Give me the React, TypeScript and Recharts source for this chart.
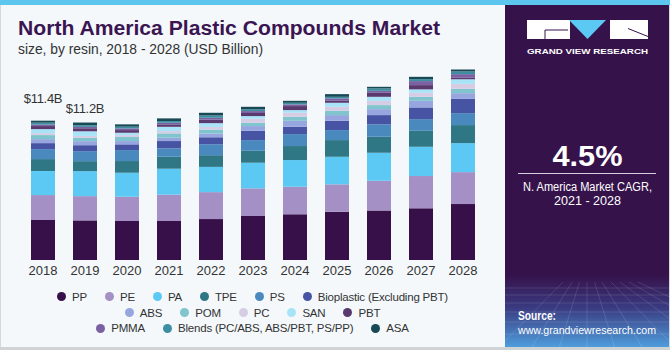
import React from 'react';
import { BarChart, Bar, XAxis, YAxis, LabelList, Legend } from 'recharts';

const years = ['2018', '2019', '2020', '2021', '2022', '2023', '2024', '2025', '2026', '2027', '2028'];

const PP = [3.28, 3.25, 3.2, 3.2, 3.36, 3.61, 3.75, 3.96, 4.07, 4.24, 4.59];
const PE = [2.05, 1.99, 1.99, 2.16, 2.21, 2.27, 2.26, 2.25, 2.43, 2.65, 2.62];
const PA = [1.97, 2.05, 1.97, 2.13, 2.07, 2.1, 2.19, 2.26, 2.3, 2.4, 2.38];
const TPE = [0.98, 0.82, 0.96, 0.98, 0.96, 0.98, 1.15, 1.37, 1.31, 1.31, 1.48];
const PS = [0.82, 0.82, 0.9, 0.69, 0.9, 0.88, 0.98, 0.82, 1.02, 0.96, 0.98];
const BIO = [0.49, 0.49, 0.47, 0.6, 0.57, 0.76, 0.6, 0.76, 0.76, 0.96, 1.17];
const ABS = [0.33, 0.33, 0.27, 0.27, 0.3, 0.39, 0.49, 0.47, 0.49, 0.54, 0.47];
const POM = [0.33, 0.27, 0.33, 0.36, 0.33, 0.27, 0.33, 0.35, 0.33, 0.33, 0.35];
const PC = [0.16, 0.16, 0.16, 0.19, 0.22, 0.33, 0.33, 0.33, 0.35, 0.33, 0.41];
const SAN = [0.33, 0.38, 0.19, 0.35, 0.31, 0.22, 0.22, 0.33, 0.33, 0.28, 0.38];
const PBT = [0.25, 0.25, 0.22, 0.2, 0.28, 0.25, 0.33, 0.16, 0.33, 0.35, 0.12];
const PMMA = [0.12, 0.11, 0.14, 0.13, 0.16, 0.16, 0.14, 0.2, 0.16, 0.33, 0.3];
const BLENDS = [0.16, 0.14, 0.14, 0.14, 0.19, 0.14, 0.13, 0.13, 0.2, 0.16, 0.22];
const ASA = [0.16, 0.22, 0.19, 0.22, 0.22, 0.21, 0.16, 0.22, 0.13, 0.19, 0.16];

const totalLabels = ['$11.4B', '$11.2B', '', '', '', '', '', '', '', '', ''];

const seriesKeys = ['PP', 'PE', 'PA', 'TPE', 'PS', 'BIO', 'ABS', 'POM', 'PC', 'SAN', 'PBT', 'PMMA', 'BLENDS', 'ASA'];
const seriesValues = [PP, PE, PA, TPE, PS, BIO, ABS, POM, PC, SAN, PBT, PMMA, BLENDS, ASA];
const seriesNames = [
  'PP', 'PE', 'PA', 'TPE', 'PS', 'Bioplastic (Excluding PBT)',
  'ABS', 'POM', 'PC', 'SAN', 'PBT',
  'PMMA', 'Blends (PC/ABS, ABS/PBT, PS/PP)', 'ASA',
];
const seriesColors = [
  '#37104A', '#A490C4', '#5CC9F5', '#2F7785', '#4A89BE', '#4753A3',
  '#97A6DE', '#80C5CD', '#D6CDE5', '#A9E3F7', '#5A3A6E',
  '#7B61A2', '#3D8EA1', '#184A55',
];
const legendRows = [[0, 1, 2, 3, 4, 5], [6, 7, 8, 9, 10], [11, 12, 13]];

const data = years.map((year, i) => {
  const row: Record<string, string | number> = { year, total: totalLabels[i] };
  seriesKeys.forEach((k, s) => {
    row[k] = seriesValues[s][i];
  });
  return row;
});

const FONT = '"Liberation Sans", Arial, sans-serif';
const labelLift = [18, 10];

const renderTotal = (props: any) => {
  const { value, index } = props;
  if (!value) return null;
  const vb = props.viewBox || props;
  const x = vb.x + vb.width / 2;
  const y = vb.y - (labelLift[index] ?? 10);
  return (
    <text x={x} y={y} textAnchor="middle" fontSize={13} fill="#333" fontFamily={FONT} letterSpacing={-0.3}>
      {value}
    </text>
  );
};

const renderLegend = () => (
  <div style={{ fontFamily: FONT, fontSize: 11.5, color: '#333', letterSpacing: -0.2 }}>
    {legendRows.map((row, r) => (
      <div key={r} style={{ display: 'flex', justifyContent: 'center', alignItems: 'center', height: 15.8 }}>
        {row.map((s, j) => (
          <span key={s} style={{ display: 'flex', alignItems: 'center', marginLeft: j === 0 ? 0 : 18, whiteSpace: 'nowrap' }}>
            <span style={{ width: 9, height: 9, borderRadius: '50%', background: seriesColors[s], marginRight: 6, display: 'inline-block' }} />
            <span>{seriesNames[s]}</span>
          </span>
        ))}
      </div>
    ))}
  </div>
);

const Background = () => (
  <svg width={670} height={350} style={{ position: 'absolute', left: 0, top: 0 }}>
    <defs>
      <linearGradient id="panelGrad" x1="0" y1="0" x2="0" y2="1">
        <stop offset="0" stopColor="#36124B" />
        <stop offset="0.45" stopColor="#3A3A80" />
        <stop offset="1" stopColor="#4E9DDC" />
      </linearGradient>
    </defs>
    <rect x={0} y={0} width={670} height={350} fill="#F4F8FB" />
    <rect x={0} y={0} width={1} height={350} fill="#D4D8DC" />
    <rect x={0} y={347} width={670} height={3} fill="#D0D3D6" />
    <rect x={505} y={5} width={164} height={342} fill="#36124B" />
    <rect x={505} y={275} width={164} height={72} fill="url(#panelGrad)" />
    {[288, 295, 303, 312, 322, 334].map((yy) => (
      <line key={yy} x1={505} x2={669} y1={yy} y2={yy} stroke="#FFFFFF" strokeOpacity={0.12} />
    ))}
    {[-80, -50, -25, 0, 25, 50, 80, 110, 140, 170].map((dx, k) => (
      <line key={k} x1={587 + dx * 0.3} y1={282} x2={587 + dx * 1.1} y2={347} stroke="#FFFFFF" strokeOpacity={0.12} />
    ))}
    <rect x={669} y={0} width={1} height={350} fill="#D4D8DC" />
    <rect x={0} y={0} width={670} height={5} fill="#5DC6EE" />

    <text x={18} y={35} fontSize={20} fontWeight={700} fill="#3A1552" fontFamily={FONT} textLength={422} lengthAdjust="spacingAndGlyphs">
      North America Plastic Compounds Market
    </text>
    <text x={18} y={53.5} fontSize={14} fill="#333" fontFamily={FONT} textLength={245} lengthAdjust="spacingAndGlyphs">
      size, by resin, 2018 - 2028 (USD Billion)
    </text>

    <rect x={527} y={20} width={43} height={19} fill="#FFFFFF" />
    <path d="M545 39 V30 H568" stroke="#36124B" strokeWidth={1} fill="none" />
    <polygon points="569,20 606,20 587.5,39" fill="#5CC9F5" />
    <rect x={610} y={20} width={38} height={19} fill="#FFFFFF" />
    <line x1={628} y1={28.5} x2={648} y2={36.5} stroke="#36124B" strokeWidth={1} />
    <text x={587.5} y={53.5} fontSize={8} fontWeight={700} fill="#FFFFFF" fontFamily={FONT} textAnchor="middle" textLength={121} lengthAdjust="spacingAndGlyphs">
      GRAND VIEW RESEARCH
    </text>

    <text x={587.5} y={165.5} fontSize={30} fontWeight={700} fill="#FFFFFF" fontFamily={FONT} textAnchor="middle" textLength={70} lengthAdjust="spacingAndGlyphs">
      4.5%
    </text>
    <line x1={518} x2={656} y1={173.5} y2={173.5} stroke="#FFFFFF" strokeOpacity={0.8} strokeWidth={1} />
    <text x={587.5} y={190.5} fontSize={12} fill="#FFFFFF" fontFamily={FONT} textAnchor="middle" textLength={129} lengthAdjust="spacingAndGlyphs">
      N. America Market CAGR,
    </text>
    <text x={587.5} y={204.5} fontSize={12} fill="#FFFFFF" fontFamily={FONT} textAnchor="middle" textLength={67} lengthAdjust="spacingAndGlyphs">
      2021 - 2028
    </text>

    <text x={518} y={320} fontSize={12} fontWeight={700} fill="#FFFFFF" fontFamily={FONT} textLength={38} lengthAdjust="spacingAndGlyphs">
      Source:
    </text>
    <text x={518} y={333.5} fontSize={11.5} fill="#FFFFFF" fontFamily={FONT} textLength={138} lengthAdjust="spacingAndGlyphs">
      www.grandviewresearch.com
    </text>
  </svg>
);

export default function App() {
  return (
    <div style={{ position: 'absolute', left: 0, top: 0, width: 670, height: 350, overflow: 'hidden' }}>
      <Background />
      <div style={{ position: 'absolute', left: 0, top: 0 }}>
        <BarChart width={500} height={350} data={data} margin={{ top: 65, right: 16, bottom: 60, left: 22 }} barSize={24}>
          <XAxis
            dataKey="year"
            tickLine={false}
            axisLine={false}
            tickSize={0}
            tickMargin={6}
            height={30}
            interval={0}
            tick={{ fontSize: 13, fill: '#333', fontFamily: FONT }}
          />
          <YAxis hide domain={[0, 16]} />
          <Legend
            layout="horizontal"
            align="center"
            verticalAlign="middle"
            width={505}
            wrapperStyle={{ left: 0, top: 289 }}
            content={renderLegend}
          />
          {seriesKeys.map((k, s) => (
            <Bar key={k} dataKey={k} name={seriesNames[s]} stackId="a" fill={seriesColors[s]} isAnimationActive={false}>
              {s === seriesKeys.length - 1 ? <LabelList dataKey="total" content={renderTotal} /> : null}
            </Bar>
          ))}
        </BarChart>
      </div>
    </div>
  );
}
